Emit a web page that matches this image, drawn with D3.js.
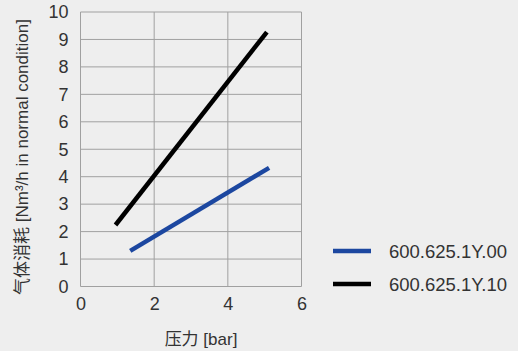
<!DOCTYPE html>
<html><head><meta charset="utf-8">
<script src="https://cdn.jsdelivr.net/npm/d3@7"></script>
<style>
html,body{margin:0;padding:0;background:#eeeeee;}
svg{display:block;font-family:"Liberation Sans","Noto Sans CJK SC",sans-serif;}
</style></head><body>
<svg id="c" width="518" height="351"></svg>
<script>
const seriesNames = ["600.625.1Y.00", "600.625.1Y.10"];
const seriesColors = ["#1c47a0", "#000000"];
const s00 = [{x:1.35, y:1.3}, {x:5.12, y:4.32}];
const s10 = [{x:0.95, y:2.24}, {x:5.06, y:9.27}];
const xTicks = [0, 2, 4, 6];
const yTicks = [0,1,2,3,4,5,6,7,8,9,10];
const xLabel = "压力 [bar]";
const yLabel = "气体消耗 [Nm³/h in normal condition]";

const svg = d3.select("#c");
const x = d3.scaleLinear().domain([0,6]).range([80.5, 301.5]);
const y = d3.scaleLinear().domain([0,10]).range([286.5, 12]);

const g = svg.append("g");
g.selectAll(".gx").data(xTicks).join("line")
  .attr("x1", d=>x(d)).attr("x2", d=>x(d)).attr("y1", y(0)).attr("y2", y(10))
  .attr("stroke", "#a0a0a0").attr("stroke-width", 1);
g.selectAll(".gy").data(yTicks).join("line")
  .attr("x1", x(0)).attr("x2", x(6)).attr("y1", d=>y(d)).attr("y2", d=>y(d))
  .attr("stroke", "#a0a0a0").attr("stroke-width", 1);

const xAxis = d3.axisBottom(x).tickValues(xTicks).tickFormat(d3.format("d")).tickSize(0).tickPadding(11);
const ax = svg.append("g").attr("transform", `translate(0,${y(0)})`).call(xAxis);
ax.select(".domain").remove();
ax.selectAll("text").attr("font-size", 18).attr("fill", "#333");
const yAxis = d3.axisLeft(y).tickValues(yTicks).tickFormat(d3.format("d")).tickSize(0).tickPadding(12);
const ay = svg.append("g").attr("transform", `translate(${x(0)},0)`).call(yAxis);
ay.select(".domain").remove();
ay.selectAll("text").attr("font-size", 18).attr("fill", "#333");

const line = d3.line().x(d=>x(d.x)).y(d=>y(d.y));
[s00, s10].forEach((s,i)=>{
  svg.append("path").datum(s).attr("d", line).attr("fill","none")
    .attr("stroke", seriesColors[i]).attr("stroke-width", 4.5);
});

svg.append("text").attr("x", 201).attr("y", 345).attr("text-anchor","middle")
  .attr("font-size", 17).attr("fill","#333").text(xLabel);
svg.append("text").attr("transform","translate(28,157) rotate(-90)").attr("text-anchor","middle")
  .attr("font-size", 17).attr("fill","#333").text(yLabel);

const leg = svg.append("g");
seriesNames.forEach((n,i)=>{
  const yy = 251 + i*33;
  leg.append("line").attr("x1",333).attr("x2",371).attr("y1",yy).attr("y2",yy)
    .attr("stroke", seriesColors[i]).attr("stroke-width",4.5);
  leg.append("text").attr("x",389).attr("y",yy+6.5).attr("font-size",18.5).attr("fill","#333").text(n);
});
</script></body></html>
